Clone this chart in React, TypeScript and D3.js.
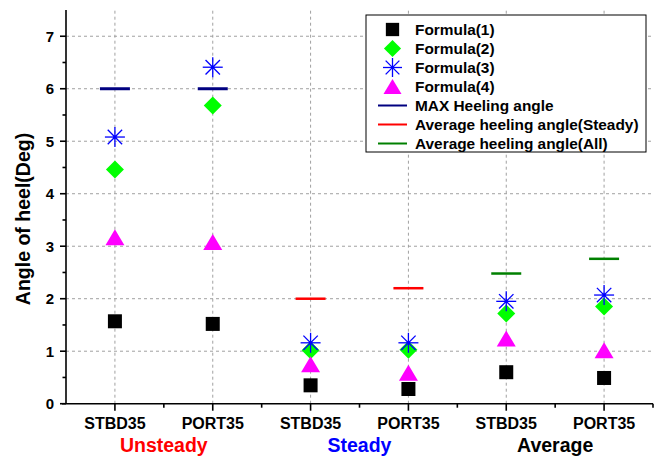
import React from "react";
import * as d3 from "d3";

const categories = ["STBD35", "PORT35", "STBD35", "PORT35", "STBD35", "PORT35"];
const groups = [
  { name: "Unsteady", color: "#ff0000", from: 0, to: 1 },
  { name: "Steady", color: "#0000ff", from: 2, to: 3 },
  { name: "Average", color: "#000000", from: 4, to: 5 },
];
const formula1 = [1.57, 1.52, 0.35, 0.28, 0.6, 0.49];
const formula2 = [4.46, 5.68, 1.02, 1.03, 1.72, 1.85];
const formula3 = [5.08, 6.41, 1.16, 1.16, 1.95, 2.07];
const formula4 = [3.17, 3.08, 0.75, 0.59, 1.24, 1.02];
// [category index, value]
const maxHeeling: [number, number][] = [[0, 6.0], [1, 6.0]];
const avgSteady: [number, number][] = [[2, 2.0], [3, 2.2]];
const avgAll: [number, number][] = [[4, 2.48], [5, 2.76]];
const yTicks = [0, 1, 2, 3, 4, 5, 6, 7];
const legendItems = [
  { label: "Formula(1)", kind: "square", color: "#000000" },
  { label: "Formula(2)", kind: "diamond", color: "#00ff00" },
  { label: "Formula(3)", kind: "star", color: "#0000ff" },
  { label: "Formula(4)", kind: "triangle", color: "#ff00ff" },
  { label: "MAX Heeling angle", kind: "line", color: "#000080" },
  { label: "Average heeling angle(Steady)", kind: "line", color: "#ff0000" },
  { label: "Average heeling angle(All)", kind: "line", color: "#008000" },
];

const W = 661, H = 457;
const FONT = "'Liberation Sans', Arial, sans-serif";

function Marker({ kind, cx, cy, color, s = 1 }: { kind: string; cx: number; cy: number; color: string; s?: number }) {
  if (kind === "square") {
    const h = 7 * s;
    return <rect x={cx - h} y={cy - h} width={2 * h} height={2 * h} fill={color} />;
  }
  if (kind === "diamond") {
    const h = 9 * s;
    return <path d={`M${cx},${cy - h}L${cx + h},${cy}L${cx},${cy + h}L${cx - h},${cy}Z`} fill={color} />;
  }
  if (kind === "triangle") {
    const w = 9.5 * s, hh = 8 * s;
    return <path d={`M${cx},${cy - hh}L${cx + w},${cy + hh}L${cx - w},${cy + hh}Z`} fill={color} />;
  }
  if (kind === "star") {
    const r = 10 * s, d = r * 0.72;
    return (
      <g stroke={color} strokeWidth={1.3} fill="none">
        <line x1={cx - r} y1={cy} x2={cx + r} y2={cy} />
        <line x1={cx} y1={cy - r} x2={cx} y2={cy + r} />
        <line x1={cx - d} y1={cy - d} x2={cx + d} y2={cy + d} />
        <line x1={cx - d} y1={cy + d} x2={cx + d} y2={cy - d} />
        <circle cx={cx} cy={cy} r={1.8} fill={color} stroke="none" />
      </g>
    );
  }
  return null;
}

export default function App() {
  const x = d3.scaleLinear().domain([0.5, 6.5]).range([66, 653]);
  const y = d3.scaleLinear().domain([0, 7.5]).range([403.7, 10]);
  const catX = (i: number) => x(i + 1);
  const minorY = d3.range(0.5, 7.5, 1);
  const minorX = d3.range(1.5, 6.5, 1);
  const series = [
    { data: formula1, kind: "square", color: "#000000" },
    { data: formula2, kind: "diamond", color: "#00ff00" },
    { data: formula3, kind: "star", color: "#0000ff" },
    { data: formula4, kind: "triangle", color: "#ff00ff" },
  ];
  const lineSets = [
    { data: maxHeeling, color: "#000080", w: 3 },
    { data: avgSteady, color: "#ff0000", w: 2.5 },
    { data: avgAll, color: "#008000", w: 2.5 },
  ];
  const [x0, x1] = x.range();
  const [yb, yt] = y.range();
  return (
    <svg width={W} height={H} style={{ position: "absolute", left: 0, top: 0, background: "#fff" }} fontFamily={FONT}>
      <rect width={W} height={H} fill="#fff" />
      {/* grid */}
      <g stroke="#a0a0a0" strokeWidth={1} strokeDasharray="3,3">
        {yTicks.filter((t) => t > 0).map((t) => (
          <line key={"gy" + t} x1={x0} x2={x1} y1={y(t)} y2={y(t)} />
        ))}
        {categories.map((_, i) => (
          <line key={"gx" + i} x1={catX(i)} x2={catX(i)} y1={yb} y2={yt} />
        ))}
      </g>
      {/* axes */}
      <g stroke="#000" strokeWidth={1.6}>
        <line x1={x0} x2={x0} y1={yb} y2={yt} />
        <line x1={x0 - 4} x2={x1} y1={yb} y2={yb} />
        {yTicks.map((t) => (
          <line key={"ty" + t} x1={x0 - 6} x2={x0} y1={y(t)} y2={y(t)} />
        ))}
        {minorY.map((t) => (
          <line key={"my" + t} x1={x0 - 3.5} x2={x0} y1={y(t)} y2={y(t)} />
        ))}
        {categories.map((_, i) => (
          <line key={"tx" + i} x1={catX(i)} x2={catX(i)} y1={yb} y2={yb + 7} />
        ))}
        {minorX.map((t) => (
          <line key={"mx" + t} x1={x(t)} x2={x(t)} y1={yb} y2={yb + 4} />
        ))}
        <line x1={x1} x2={x1} y1={yb} y2={yb + 4} />
      </g>
      {/* tick labels */}
      <g fontSize={15} fontWeight="bold" fill="#000">
        {yTicks.map((t) => (
          <text key={"ly" + t} x={x0 - 12} y={y(t)} dy="0.36em" textAnchor="end">{t}</text>
        ))}
      </g>
      <g fontSize={16} fontWeight="bold" fill="#000">
        {categories.map((c, i) => (
          <text key={"lx" + i} x={catX(i)} y={429} textAnchor="middle">{c}</text>
        ))}
      </g>
      <g fontSize={19.5} fontWeight="bold">
        {groups.map((g) => (
          <text key={g.name} x={(catX(g.from) + catX(g.to)) / 2} y={452} textAnchor="middle" fill={g.color}>{g.name}</text>
        ))}
      </g>
      <text transform={`translate(30,219) rotate(-90)`} textAnchor="middle" fontSize={19.5} fontWeight="bold" fill="#000">Angle of heel(Deg)</text>
      {/* horizontal reference segments */}
      {lineSets.map((ls, k) => (
        <g key={"ls" + k}>
          {ls.data.map(([i, v]) => (
            <line key={i} x1={catX(i) - 15} x2={catX(i) + 15} y1={y(v)} y2={y(v)} stroke={ls.color} strokeWidth={ls.w} />
          ))}
        </g>
      ))}
      {/* markers */}
      {series.map((s, k) => (
        <g key={"s" + k}>
          {s.data.map((v, i) => (
            <Marker key={i} kind={s.kind} cx={catX(i)} cy={y(v)} color={s.color} />
          ))}
        </g>
      ))}
      {/* legend */}
      <g>
        <rect x={366} y={15} width={280} height={137} fill="#fff" stroke="#000" strokeWidth={1} />
        {legendItems.map((it, k) => {
          const cy = 29.5 + k * 19;
          return (
            <g key={it.label}>
              {it.kind === "line" ? (
                <line x1={378} x2={407} y1={cy} y2={cy} stroke={it.color} strokeWidth={2} />
              ) : (
                <Marker kind={it.kind} cx={392.5} cy={cy} color={it.color} s={0.95} />
              )}
              <text x={415} y={cy} dy="0.36em" fontSize={15.4} fontWeight="bold" fill="#000">{it.label}</text>
            </g>
          );
        })}
      </g>
    </svg>
  );
}
